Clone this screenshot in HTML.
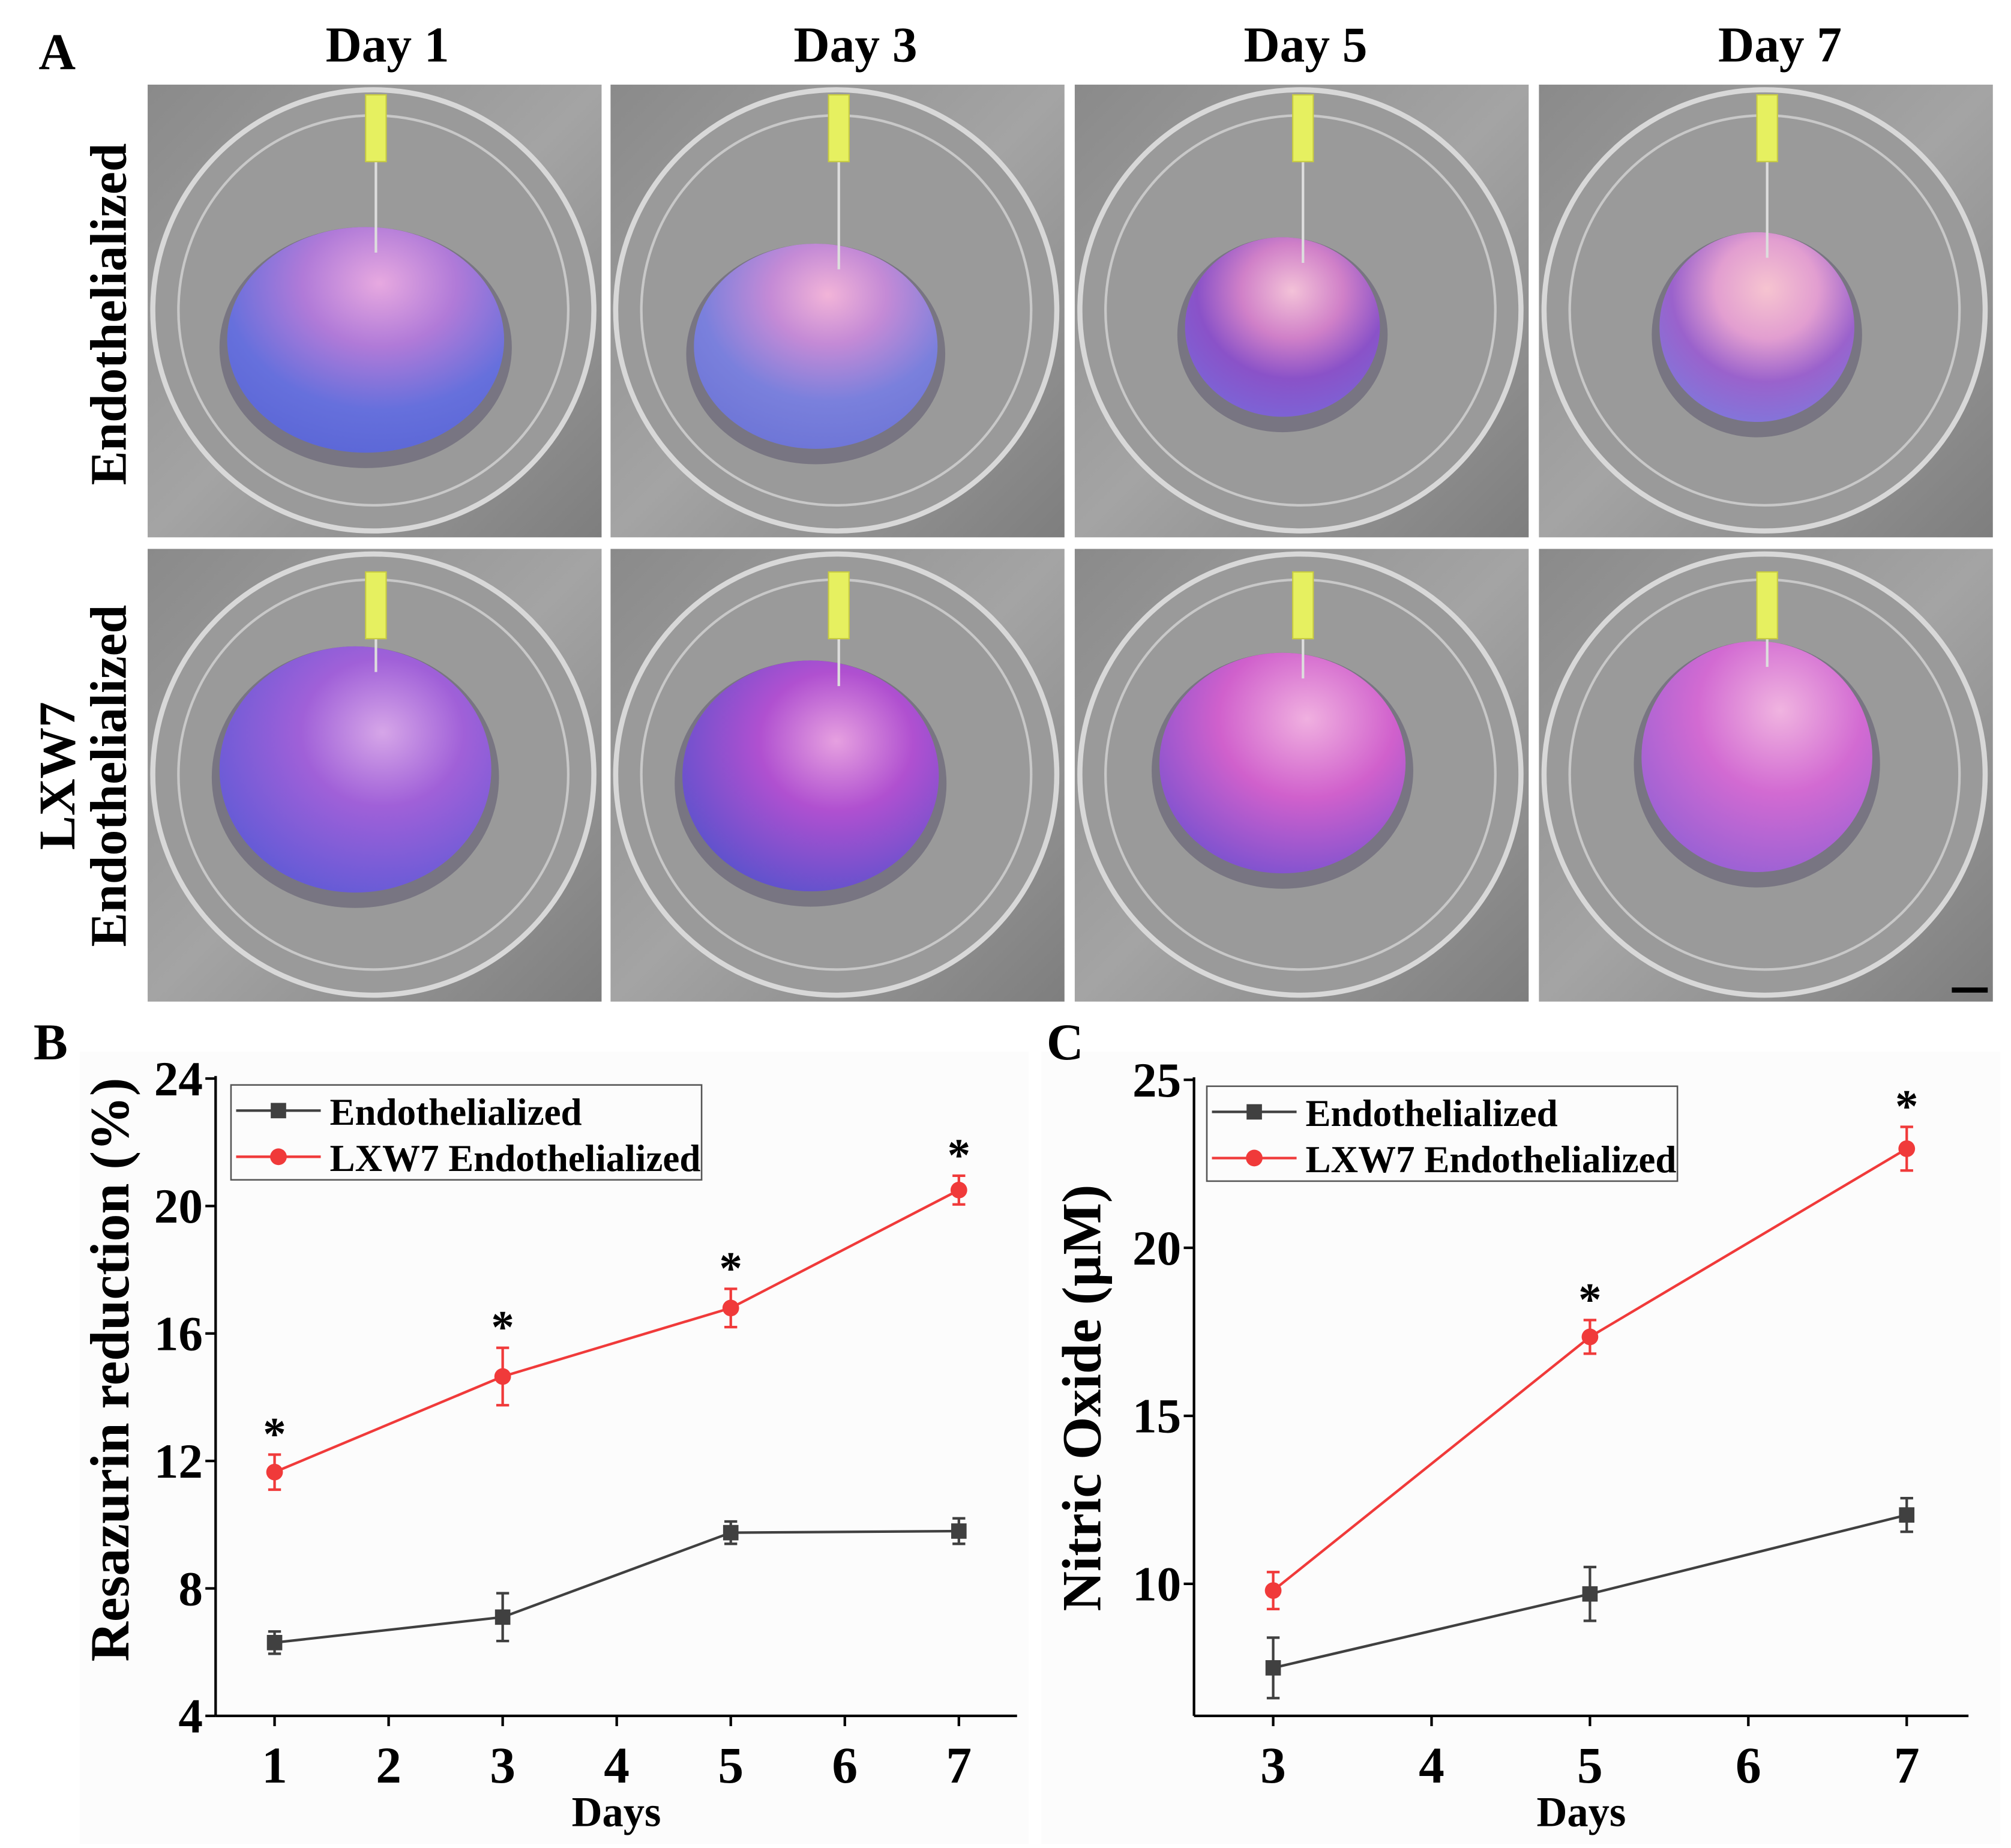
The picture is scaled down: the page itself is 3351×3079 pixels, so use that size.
<!DOCTYPE html>
<html><head><meta charset="utf-8">
<style>
html,body{margin:0;padding:0;background:#fff;}
svg{display:block;}
text{font-family:"Liberation Serif",serif;font-weight:bold;fill:#000;}
</style></head>
<body>
<svg id="fig" width="3351" height="3079" viewBox="0 0 1568 1441" xmlns="http://www.w3.org/2000/svg">
<defs>
<linearGradient id="metal" x1="0" y1="0" x2="1" y2="1">
<stop offset="0" stop-color="#8a8a8a"/><stop offset="0.5" stop-color="#a4a4a4"/><stop offset="1" stop-color="#7e7e7e"/>
</linearGradient>
<radialGradient id="r1c1" cx="0.55" cy="0.25" r="0.8"><stop offset="0" stop-color="#e7a9e0"/><stop offset="0.35" stop-color="#b07ad8"/><stop offset="0.7" stop-color="#6670dc"/><stop offset="1" stop-color="#5a66d6"/></radialGradient>
<radialGradient id="r1c2" cx="0.55" cy="0.25" r="0.8"><stop offset="0" stop-color="#f2b4d8"/><stop offset="0.3" stop-color="#c48ad6"/><stop offset="0.65" stop-color="#7a80dc"/><stop offset="1" stop-color="#6c74d6"/></radialGradient>
<radialGradient id="r1c3" cx="0.55" cy="0.3" r="0.75"><stop offset="0" stop-color="#f3c2d8"/><stop offset="0.35" stop-color="#d080c8"/><stop offset="0.65" stop-color="#8a52c8"/><stop offset="1" stop-color="#7a66d8"/></radialGradient>
<radialGradient id="r1c4" cx="0.55" cy="0.3" r="0.75"><stop offset="0" stop-color="#f6c4d0"/><stop offset="0.35" stop-color="#e29ed0"/><stop offset="0.65" stop-color="#9a62cc"/><stop offset="1" stop-color="#7f78dc"/></radialGradient>
<radialGradient id="r2c1" cx="0.6" cy="0.35" r="0.75"><stop offset="0" stop-color="#d6a6e8"/><stop offset="0.4" stop-color="#a060d8"/><stop offset="1" stop-color="#5a5ad6"/></radialGradient>
<radialGradient id="r2c2" cx="0.6" cy="0.35" r="0.75"><stop offset="0" stop-color="#e6a0e0"/><stop offset="0.4" stop-color="#b050d0"/><stop offset="1" stop-color="#5252cc"/></radialGradient>
<radialGradient id="r2c3" cx="0.6" cy="0.3" r="0.8"><stop offset="0" stop-color="#f0b0e0"/><stop offset="0.45" stop-color="#d060cc"/><stop offset="1" stop-color="#7050d0"/></radialGradient>
<radialGradient id="r2c4" cx="0.6" cy="0.3" r="0.8"><stop offset="0" stop-color="#f0b4e0"/><stop offset="0.45" stop-color="#d26ad2"/><stop offset="1" stop-color="#9060d4"/></radialGradient>
</defs>

<text x="30" y="54" font-size="40">A</text>
<g id="photos"></g>

<rect x="62" y="820" width="740" height="618" fill="#fcfcfc"/>
<rect x="812" y="820" width="748" height="618" fill="#fcfcfc"/>
<text x="26" y="826" font-size="40">B</text>
<text x="816" y="826" font-size="40">C</text>
<g id="chartB"></g>
<g id="chartC"></g>
</svg>

<script>
// ---------- Chart B data ----------
const bDays = [1, 3, 5, 7];
const bEndo = [6.3, 7.1, 9.75, 9.8];
const bEndoErr = [0.35, 0.75, 0.35, 0.4];
const bLxw = [11.65, 14.65, 16.8, 20.5];
const bLxwErr = [0.55, 0.9, 0.6, 0.45];
const bStars = [true, true, true, true];
const bYTicks = [4, 8, 12, 16, 20, 24];
const bXTicks = [1, 2, 3, 4, 5, 6, 7];

// ---------- Chart C data ----------
const cDays = [3, 5, 7];
const cEndo = [7.5, 9.7, 12.05];
const cEndoErr = [0.9, 0.8, 0.5];
const cLxw = [9.8, 17.35, 22.95];
const cLxwErr = [0.55, 0.5, 0.65];
const cStars = [false, true, true];
const cYTicks = [10, 15, 20, 25];
const cXTicks = [3, 4, 5, 6, 7];

const NS = "http://www.w3.org/2000/svg";
function mk(tag, attrs, parent) {
  const e = document.createElementNS(NS, tag);
  for (const k in attrs) e.setAttribute(k, attrs[k]);
  parent.appendChild(e);
  return e;
}

// ---------- Photos ----------
const photos = document.getElementById('photos');
const colX = [115, 476, 838, 1200];
const rowY = [66, 428];
const blobs = [
  [[170,199,108,88],[160,204,95,80],[162,189,76,70],[170,189,76,74]],
  [[162,172,106,96],[156,177,100,90],[162,167,96,86],[170,162,90,90]]
];
for (let r = 0; r < 2; r++) {
  for (let c = 0; c < 4; c++) {
    const g = mk('g', {transform: `translate(${colX[c]},${rowY[r]})`}, photos);
    
    
    mk('rect', {x:0,y:0,width:354,height:353,fill:'url(#metal)'}, g);
    mk('circle', {cx:176,cy:176,r:172,fill:'#9a9a9a',stroke:'#d8d8d8','stroke-width':4}, g);
    mk('circle', {cx:176,cy:176,r:152,fill:'none',stroke:'#c8c8c8','stroke-width':2}, g);
    const b = blobs[r][c];
    mk('ellipse', {cx:b[0],cy:b[1]+6,rx:b[2]+6,ry:b[3]+6,fill:'#55506a',opacity:0.5}, g);
    const bl = mk('ellipse', {cx:b[0],cy:b[1],rx:b[2],ry:b[3],fill:`url(#r${r+1}c${c+1})`}, g);
    
    
    mk('line', {x1:178,y1:60,x2:178,y2:b[1]-b[3]+20,stroke:'#ddd','stroke-width':2}, g);
    mk('rect', {x:170,y:8 + (r===1?10:0),width:16,height:52,fill:'#e6f060',stroke:'#c8cc40','stroke-width':1}, g);
  }
}
mk('rect', {x:1522,y:770,width:28,height:4,fill:'#000'}, photos);
const colLabels = ['Day 1','Day 3','Day 5','Day 7'];
const colCenters = [302, 667, 1018, 1388];
colLabels.forEach((t,i) => {
  const e = mk('text', {x:colCenters[i], y:48, 'font-size':39, 'text-anchor':'middle'}, photos);
  
  
  e.textContent = t;
});
{
  const e = mk('text', {transform:'translate(98,245) rotate(-90)','font-size':40,'text-anchor':'middle'}, photos);
  
  
  e.textContent = 'Endothelialized';
  const e2 = mk('text', {transform:'translate(58,605) rotate(-90)','font-size':40,'text-anchor':'middle'}, photos);
  
  
  e2.textContent = 'LXW7';
  const e3 = mk('text', {transform:'translate(98,605) rotate(-90)','font-size':40,'text-anchor':'middle'}, photos);
  
  
  e3.textContent = 'Endothelialized';
}

// ---------- Chart drawing ----------
function drawChart(opts) {
  const g = document.getElementById(opts.id);
  const L = opts.left, R = opts.right, T = opts.top, B = opts.bottom;
  const xs = v => L + (v - opts.xmin) / (opts.xmax - opts.xmin) * (R - L);
  const ys = v => B - (v - opts.ymin) / (opts.ymax - opts.ymin) * (B - T);
  const ax = mk('line', {x1:L,y1:B,x2:R,y2:B,stroke:'#000','stroke-width':2}, g);
  
  
  const ay = mk('line', {x1:L,y1:T-2,x2:L,y2:B,stroke:'#000','stroke-width':2}, g);
  
  
  opts.yTicks.forEach(v => {
    mk('line', {x1:L-8,y1:ys(v),x2:L,y2:ys(v),stroke:'#000','stroke-width':2}, g);
    const t = mk('text', {x:L-10,y:ys(v)+13,'font-size':38,'text-anchor':'end'}, g);
    
    
    t.textContent = v;
  });
  opts.xTicks.forEach(v => {
    mk('line', {x1:xs(v),y1:B,x2:xs(v),y2:B+8,stroke:'#000','stroke-width':2}, g);
    const t = mk('text', {x:xs(v),y:B+52,'font-size':40,'text-anchor':'middle'}, g);
    
    
    t.textContent = v;
  });
  const xt = mk('text', {x:(L+R)/2,y:B+86,'font-size':33,'text-anchor':'middle'}, g);
  
  
  xt.textContent = 'Days';
  const yt = mk('text', {transform:`translate(${opts.ytX},${opts.ytY}) rotate(-90)`,'font-size':opts.ytSize,'text-anchor':'middle'}, g);
  
  
  yt.textContent = opts.ytitle;

  function series(days, vals, errs, color, shape, name) {
    const pts = days.map((d,i) => `${xs(d)},${ys(vals[i])}`).join(' ');
    const pl = mk('polyline', {points:pts,fill:'none',stroke:color,'stroke-width':2}, g);
    
    
    days.forEach((d,i) => {
      const x = xs(d), y1 = ys(vals[i]+errs[i]), y2 = ys(vals[i]-errs[i]);
      mk('line', {x1:x,y1:y1,x2:x,y2:y2,stroke:color,'stroke-width':2}, g);
      mk('line', {x1:x-5,y1:y1,x2:x+5,y2:y1,stroke:color,'stroke-width':2}, g);
      mk('line', {x1:x-5,y1:y2,x2:x+5,y2:y2,stroke:color,'stroke-width':2}, g);
      let m;
      if (shape === 'sq') m = mk('rect', {x:x-6,y:ys(vals[i])-6,width:12,height:12,fill:color}, g);
      else m = mk('circle', {cx:x,cy:ys(vals[i]),r:6.5,fill:color}, g);
      
      
    });
  }
  series(opts.days, opts.endo, opts.endoErr, '#404040', 'sq', 'endothelialized');
  series(opts.days, opts.lxw, opts.lxwErr, '#f03a3a', 'ci', 'lxw7-endothelialized');
  opts.days.forEach((d,i) => {
    if (!opts.stars[i]) return;
    const s = mk('text', {x:xs(d),y:ys(opts.lxw[i]+opts.lxwErr[i])-4,'font-size':36,'text-anchor':'middle','font-weight':'normal'}, g);
    
    
    s.textContent = '*';
  });
  const lg = mk('g', {}, g);
  
  
  const lx = opts.legX, ly = T + 5;
  mk('rect', {x:lx,y:ly,width:367,height:74,fill:'#fcfcfc',stroke:'#555','stroke-width':1.2}, lg);
  mk('line', {x1:lx+4,y1:ly+20,x2:lx+70,y2:ly+20,stroke:'#404040','stroke-width':2}, lg);
  mk('rect', {x:lx+31,y:ly+14,width:12,height:12,fill:'#404040'}, lg);
  mk('line', {x1:lx+4,y1:ly+56,x2:lx+70,y2:ly+56,stroke:'#f03a3a','stroke-width':2}, lg);
  mk('circle', {cx:lx+37,cy:ly+56,r:6.5,fill:'#f03a3a'}, lg);
  const t1 = mk('text', {x:lx+77,y:ly+31,'font-size':29.5}, lg);
  
  
  t1.textContent = 'Endothelialized';
  const t2 = mk('text', {x:lx+77,y:ly+67,'font-size':29.5}, lg);
  
  
  t2.textContent = 'LXW7 Endothelialized';
}

drawChart({id:'chartB', left:168, right:793, top:841, bottom:1338,
  xmin:0.483, xmax:7.51, ymin:4, ymax:24, xTicks:bXTicks, yTicks:bYTicks,
  days:bDays, endo:bEndo, endoErr:bEndoErr, lxw:bLxw, lxwErr:bLxwErr, stars:bStars,
  ytitle:'Resazurin reduction (%)', ytX:100, ytY:1068, ytSize:43, legX:180});
drawChart({id:'chartC', left:931, right:1535, top:842, bottom:1338,
  xmin:2.5, xmax:7.39, ymin:6.07, ymax:25, xTicks:cXTicks, yTicks:cYTicks,
  days:cDays, endo:cEndo, endoErr:cEndoErr, lxw:cLxw, lxwErr:cLxwErr, stars:cStars,
  ytitle:'Nitric Oxide (\u00b5M)', ytX:858, ytY:1090, ytSize:43, legX:941});
</script>
</body></html>
